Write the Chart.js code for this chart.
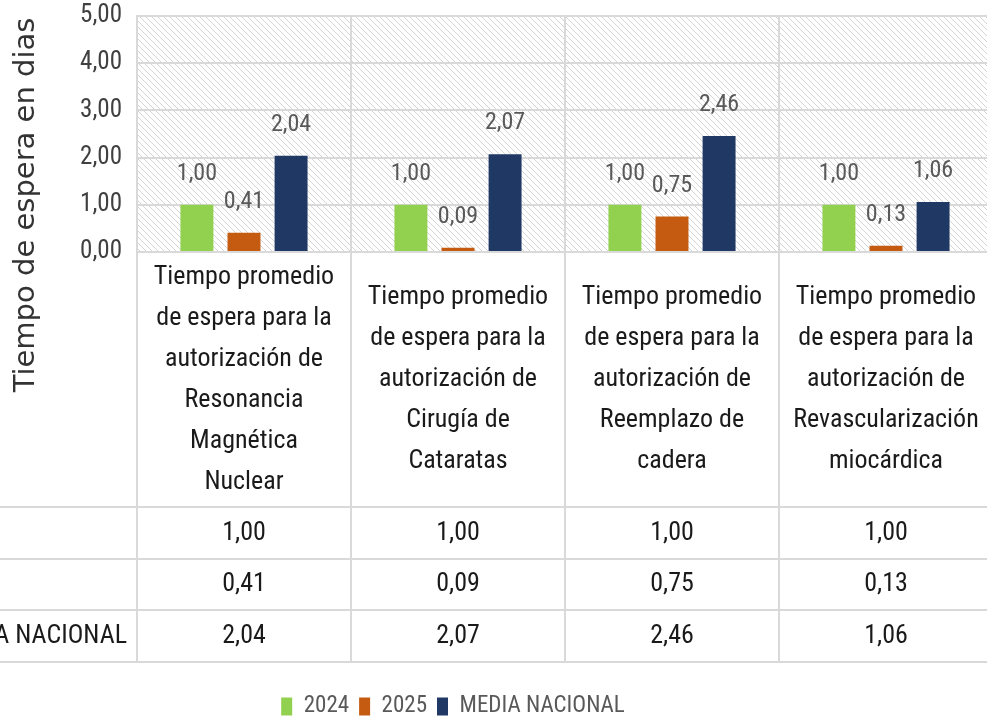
<!DOCTYPE html>
<html>
<head>
<meta charset="utf-8">
<script src="https://cdn.jsdelivr.net/npm/chart.js@4.4.0/dist/chart.umd.min.js"></script>
<style>
html, body { margin: 0; padding: 0; overflow: hidden; background: #fff; width: 987px; height: 718px; }
#wrap { position: absolute; left: -87px; top: 0; width: 1080px; height: 740px; }
</style>
</head>
<body>
<div id="wrap"><canvas id="chart"></canvas></div>
<script>
// Data
const categories = [
    ['Tiempo promedio', 'de espera para la', 'autorización de', 'Resonancia', 'Magnética', 'Nuclear'],
    ['Tiempo promedio', 'de espera para la', 'autorización de', 'Cirugía de', 'Cataratas'],
    ['Tiempo promedio', 'de espera para la', 'autorización de', 'Reemplazo de', 'cadera'],
    ['Tiempo promedio', 'de espera para la', 'autorización de', 'Revascularización', 'miocárdica']
];
const seriesNames = ['2024', '2025', 'MEDIA NACIONAL'];
const values2024 = [1.00, 1.00, 1.00, 1.00];
const values2025 = [0.41, 0.09, 0.75, 0.13];
const valuesMedia = [2.04, 2.07, 2.46, 1.06];
const yMin = 0, yMax = 5, yStep = 1;
const axisTitle = 'Tiempo de espera en dias';

const NARROW = '"Liberation Sans Narrow", "Roboto Condensed", "Liberation Sans", sans-serif';
const GRID = '#d9d9d9';

const fmt = v => v.toFixed(2).replace('.', ',');

// hatched plot background
function makeHatch(ctx) {
    const c = document.createElement('canvas');
    c.width = 6; c.height = 6;
    const g = c.getContext('2d');
    g.fillStyle = '#fff';
    g.fillRect(0, 0, 6, 6);
    g.strokeStyle = '#d4d4d4';
    g.lineWidth = 1;
    g.beginPath();
    g.moveTo(0, 0); g.lineTo(6, 6);
    g.moveTo(-1, 5); g.lineTo(1, 7);
    g.moveTo(5, -1); g.lineTo(7, 1);
    g.stroke();
    return ctx.createPattern(c, 'repeat');
}

const hatchPlugin = {
    id: 'hatch',
    beforeDraw(chart) {
        const { ctx, chartArea: a } = chart;
        ctx.save();
        ctx.fillStyle = makeHatch(ctx);
        ctx.fillRect(a.left, a.top, a.right - a.left, a.bottom - a.top);
        ctx.restore();
    }
};

// value labels above bars
const labelPlugin = {
    id: 'barLabels',
    afterDatasetsDraw(chart) {
        const { ctx } = chart;
        ctx.save();
        ctx.font = '24px ' + NARROW;
        ctx.fillStyle = '#595959';
        ctx.textAlign = 'center';
        ctx.textBaseline = 'middle';
        chart.data.datasets.forEach((ds, di) => {
            chart.getDatasetMeta(di).data.forEach((bar, i) => {
                ctx.fillText(fmt(ds.data[i]), bar.x, bar.y - 31);
            });
        });
        ctx.restore();
    }
};

// data table under the axis, plus rotated axis title
const tablePlugin = {
    id: 'dataTable',
    afterDraw(chart) {
        const { ctx, chartArea: a, scales: { x } } = chart;
        const rows = [505, 557, 608, 660].map(v => a.bottom + (v - 250));
        const n = categories.length;
        const catW = (x.right - x.left) / n;
        ctx.save();
        ctx.strokeStyle = GRID;
        ctx.lineWidth = 2;
        ctx.beginPath();
        rows.forEach(y => { ctx.moveTo(0, y); ctx.lineTo(chart.width, y); });
        for (let i = 0; i <= n; i++) {
            const xx = x.left + i * catW;
            ctx.moveTo(xx, a.bottom); ctx.lineTo(xx, rows[rows.length - 1]);
        }
        ctx.stroke();

        const data = [values2024, values2025, valuesMedia];
        ctx.font = '26px ' + NARROW;
        ctx.fillStyle = '#1a1a1a';
        ctx.textBaseline = 'middle';
        // row headers are left aligned, mostly cut off at the page edge
        const labelX = x.left - 10 - ctx.measureText(seriesNames[2]).width;
        for (let r = 0; r < 3; r++) {
            const yc = (rows[r] + rows[r + 1]) / 2;
            ctx.textAlign = 'left';
            ctx.fillText(seriesNames[r], labelX, yc);
            ctx.textAlign = 'center';
            data[r].forEach((v, i) => ctx.fillText(fmt(v), x.getPixelForValue(i), yc));
        }

        // axis title
        ctx.translate(113, 205);
        ctx.rotate(-Math.PI / 2);
        ctx.font = '29px "DejaVu Sans", sans-serif';
        ctx.fillStyle = '#333';
        ctx.textAlign = 'center';
        ctx.fillText(axisTitle, 0, 0);
        ctx.restore();
    }
};

document.addEventListener('DOMContentLoaded', () => {
    const ctx = document.getElementById('chart').getContext('2d');
    new Chart(ctx, {
        type: 'bar',
        data: {
            labels: categories,
            datasets: [
                { label: seriesNames[0], data: values2024, backgroundColor: '#92d050' },
                { label: seriesNames[1], data: values2025, backgroundColor: '#c55a11' },
                { label: seriesNames[2], data: valuesMedia, backgroundColor: '#1f3864' }
            ]
        },
        options: {
            responsive: true,
            maintainAspectRatio: false,
            animation: false,
            events: [],
            categoryPercentage: 0.66,
            barPercentage: 0.70,
            layout: { padding: { top: 0, left: 0, right: 0, bottom: 12 } },
            scales: {
                x: {
                    afterFit: s => { s.height = 433; s.paddingLeft = 0; s.paddingRight = 0; },
                    grid: { color: GRID, lineWidth: 2, drawTicks: false, offset: true },
                    border: { color: GRID, width: 2 },
                    ticks: {
                        autoSkip: false,
                        maxRotation: 0,
                        crossAlign: 'center',
                        padding: 25,
                        color: '#1a1a1a',
                        font: { family: NARROW, size: 26, lineHeight: '41px' }
                    }
                },
                y: {
                    min: yMin, max: yMax,
                    afterFit: s => { s.width = 224; s.paddingTop = 16; s.paddingBottom = 0; },
                    grid: { color: GRID, lineWidth: 2, drawTicks: false },
                    border: { color: GRID, width: 2 },
                    ticks: {
                        stepSize: yStep,
                        padding: 15,
                        color: '#404040',
                        font: { family: NARROW, size: 25 },
                        callback: v => fmt(v)
                    }
                }
            },
            plugins: {
                legend: {
                    position: 'bottom',
                    labels: {
                        boxWidth: 11,
                        boxHeight: 18,
                        padding: 10,
                        color: '#595959',
                        font: { family: NARROW, size: 23 }
                    }
                },
                tooltip: { enabled: false }
            }
        },
        plugins: [hatchPlugin, labelPlugin, tablePlugin]
    });
});
</script>
</body>
</html>
